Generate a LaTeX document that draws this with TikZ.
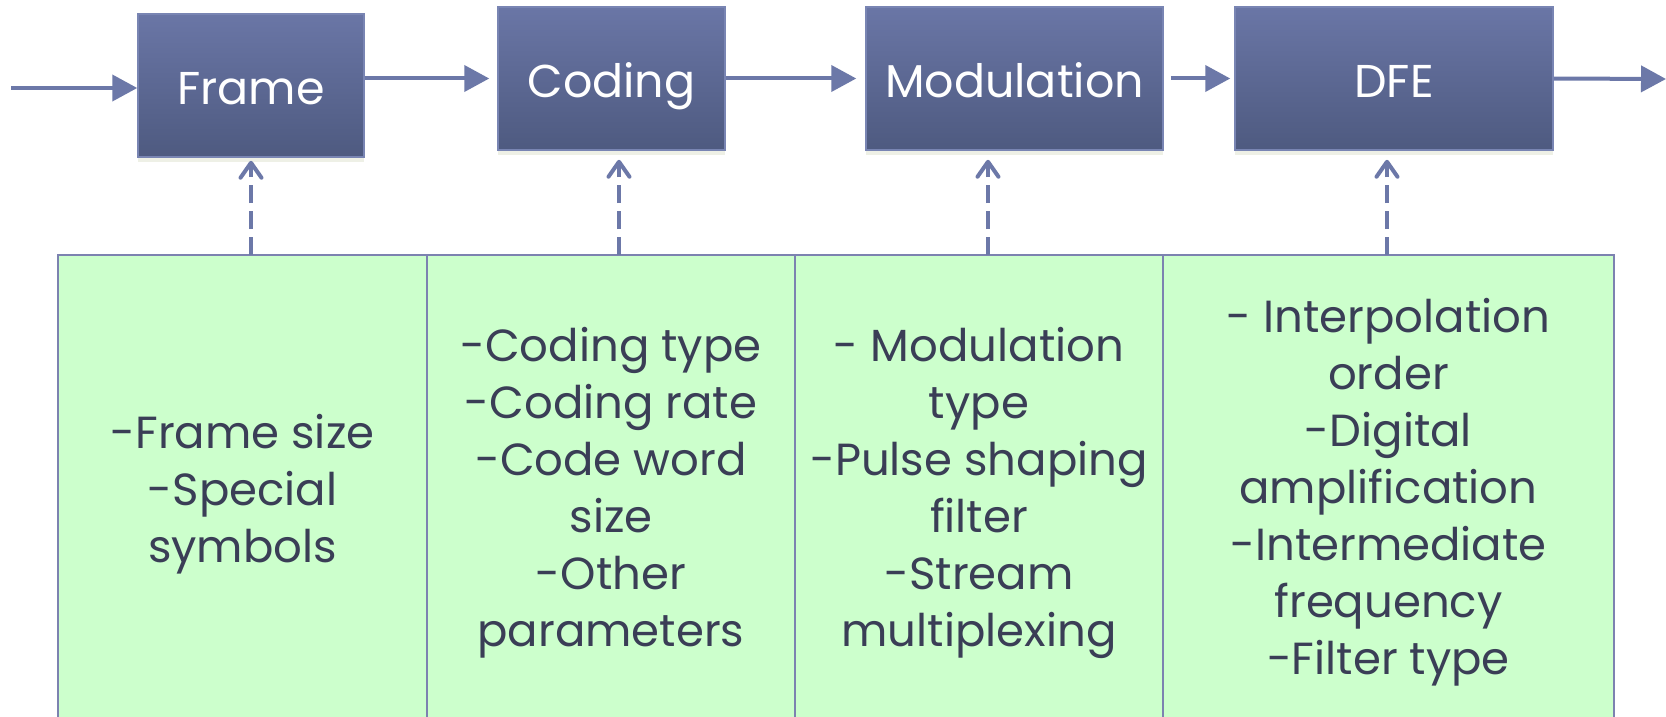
\documentclass[tikz,border=0pt]{standalone}
\usepackage{fontspec}
\setmainfont{Poppins}
\usetikzlibrary{arrows.meta,shadows}
\definecolor{boxtop}{HTML}{6A76A6}
\definecolor{boxbot}{HTML}{4E5A80}
\definecolor{boxline}{HTML}{7985B3}
\definecolor{arrowc}{HTML}{6C78A8}
\definecolor{greenfill}{HTML}{CCFFCC}
\definecolor{greenline}{HTML}{7C82B0}
\definecolor{txtc}{HTML}{3A3E56}
\definecolor{shadowc}{HTML}{EEF0E6}
\tikzset{
  blockbox/.style={rectangle, inner sep=0pt, draw=boxline, line width=1.5pt,
    top color=boxtop, bottom color=boxbot, text=white,
    text height=38pt, text depth=0pt,
    font=\fontsize{46}{55}\selectfont,
    drop shadow={shadow xshift=0pt, shadow yshift=-5pt, fill=shadowc, opacity=1}},
  colbox/.style={rectangle, inner sep=0pt, draw=greenline, line width=1.8pt,
    fill=greenfill, minimum height=466pt},
  coltext/.style={inner sep=0pt, text=txtc, align=center,
    font=\fontsize{45}{57}\selectfont},
  flow/.style={draw=arrowc, line width=4pt, -{Triangle[length=25pt,width=26pt]}},
  dflow/.style={draw=arrowc, line width=4pt, dash pattern=on 18pt off 8pt,
    -{Straight Barb[length=15pt,width=21pt,line cap=round,line join=round]}}
}
\begin{document}
\begin{tikzpicture}[x=1pt,y=-1pt]
\useasboundingbox (0,0) rectangle (1666,717);
\clip (0,0) rectangle (1666,717);
\fill[white] (0,0) rectangle (1666,717);
% green columns
\node[colbox, minimum width=369pt] (c1) at (242.5,488) {};
\node[colbox, minimum width=368pt] (c2) at (611,488) {};
\node[colbox, minimum width=368pt] (c3) at (979,488) {};
\node[colbox, minimum width=451pt] (c4) at (1388.5,488) {};
\node[coltext] (t1) at ([yshift=-6pt]c1.center) {-Frame size\\-Special\\symbols};
\node[coltext] (t2) at ([yshift=-5pt]c2.center) {-Coding type\\-Coding rate\\-Code word\\size\\-Other\\parameters};
\node[coltext] (t3) at ([yshift=-5pt]c3.center) {- Modulation\\type\\-Pulse shaping\\filter\\-Stream\\multiplexing};
\node[coltext] (t4) at ([yshift=-4pt]c4.center) {- Interpolation\\order\\-Digital\\amplification\\-Intermediate\\frequency\\-Filter type};
% blocks
\node[blockbox, minimum width=226pt, minimum height=143pt] (frame) at (251,85.5) {Frame};
\node[blockbox, minimum width=227pt, minimum height=143pt] (coding) at (611.5,78.5) {Coding};
\node[blockbox, minimum width=297pt, minimum height=143pt] (mod) at (1014.5,78.5) {Modulation};
\node[blockbox, minimum width=318pt, minimum height=143pt] (dfe) at (1394,78.5) {DFE};
% flow arrows
\coordinate (in) at (11,88);
\coordinate (out) at (1666,79);
\draw[flow] (in) -- (in -| frame.west);
\draw[flow, shorten >=8pt] (frame.east |- coding.west) -- (coding.west);
\draw[flow, shorten >=9pt] (coding.east) -- (mod.west);
\draw[flow, shorten <=7pt, shorten >=4pt] (mod.east) -- (dfe.west);
\draw[flow] (dfe.east) -- (out);
% dashed parameter arrows
\coordinate (d1) at (251,255);
\coordinate (d2) at (619,255);
\coordinate (d3) at (988,255);
\coordinate (d4) at (1387,255);
\draw[dflow, shorten >=3pt] (d1) -- (d1 |- frame.south);
\draw[dflow, shorten >=9pt] (d2) -- (d2 |- coding.south);
\draw[dflow, shorten >=9pt] (d3) -- (d3 |- mod.south);
\draw[dflow, shorten >=9pt] (d4) -- (d4 |- dfe.south);
\end{tikzpicture}
\end{document}
